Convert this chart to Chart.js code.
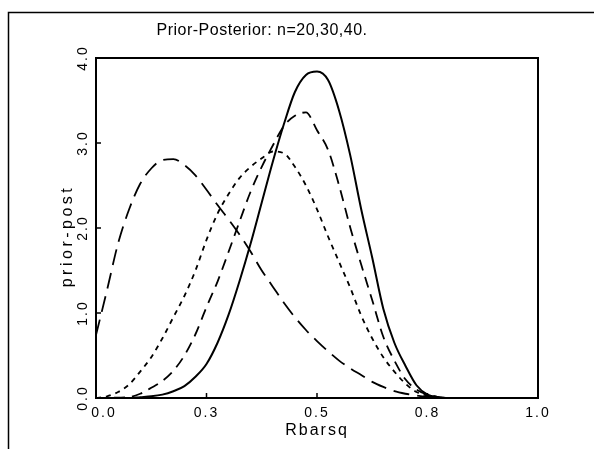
<!DOCTYPE html>
<html>
<head>
<meta charset="utf-8">
<script src="https://cdn.jsdelivr.net/npm/chart.js@4.4.0/dist/chart.umd.min.js"></script>
<style>
  html, body { margin: 0; padding: 0; background: #fff; }
</style>
</head>
<body>
<canvas id="myChart" width="594" height="449"></canvas>
<script>
  'use strict';

  // Data
  const titleText = 'Prior-Posterior: n=20,30,40.';
  const xTitle = 'Rbarsq';
  const yTitle = 'prior-post';
  const xTickValues = [0, 0.25, 0.5, 0.75, 1.0];
  const xTickLabels = ['0.0', '0.3', '0.5', '0.8', '1.0'];
  const yTickValues = [0, 1, 2, 3, 4];
  const yTickLabels = ['0.0', '1.0', '2.0', '3.0', '4.0'];

  const rbarsq = [0, 0.025, 0.05, 0.075, 0.1, 0.125, 0.15, 0.175, 0.2, 0.225,
    0.25, 0.275, 0.3, 0.325, 0.35, 0.375, 0.4, 0.425, 0.45, 0.475,
    0.5, 0.525, 0.55, 0.575, 0.6, 0.625, 0.65, 0.675, 0.7, 0.725,
    0.75, 0.775, 0.8, 0.825, 0.85, 0.875, 0.9, 0.925, 0.95, 0.975, 1.0];

  // prior (long dashes)
  const prior = [0.74, 1.27, 1.82, 2.22, 2.52, 2.7, 2.8, 2.81, 2.74, 2.62,
    2.45, 2.27, 2.1, 1.92, 1.72, 1.5, 1.31, 1.12, 0.95, 0.8,
    0.67, 0.55, 0.44, 0.35, 0.27, 0.19, 0.13, 0.08, 0.05, 0.03,
    0.015, 0.005, 0, 0, 0, 0, 0, 0, 0, 0, 0];
  // posterior n=20 (short dashes)
  const post20 = [0, 0.02, 0.07, 0.16, 0.31, 0.48, 0.7, 0.95, 1.2, 1.5,
    1.86, 2.17, 2.4, 2.59, 2.72, 2.82, 2.9, 2.88, 2.72, 2.5,
    2.22, 1.9, 1.6, 1.3, 0.97, 0.7, 0.48, 0.31, 0.17, 0.07,
    0.03, 0.01, 0, 0, 0, 0, 0, 0, 0, 0, 0];
  // posterior n=30 (medium dashes)
  const post30 = [0, 0, 0.005, 0.01, 0.05, 0.12, 0.2, 0.32, 0.5, 0.75,
    1.07, 1.37, 1.72, 2.08, 2.43, 2.72, 2.97, 3.2, 3.32, 3.36,
    3.15, 2.92, 2.5, 2.01, 1.57, 1.15, 0.72, 0.44, 0.22, 0.1,
    0.04, 0.01, 0, 0, 0, 0, 0, 0, 0, 0, 0];
  // posterior n=40 (solid)
  const post40 = [0, 0, 0, 0, 0.01, 0.02, 0.04, 0.08, 0.14, 0.25,
    0.4, 0.65, 0.98, 1.38, 1.82, 2.3, 2.78, 3.22, 3.6, 3.8,
    3.84, 3.74, 3.38, 2.86, 2.22, 1.65, 1.05, 0.65, 0.38, 0.15,
    0.04, 0.01, 0, 0, 0, 0, 0, 0, 0, 0, 0];

  const FONT = '"Liberation Sans", Arial, sans-serif';

  function toPoints(ys) {
    return rbarsq.map((x, i) => ({ x: x, y: ys[i] }));
  }

  function lineSet(ys, dash, width) {
    return {
      data: toPoints(ys),
      borderColor: '#000',
      backgroundColor: 'transparent',
      borderWidth: width,
      borderDash: dash,
      pointRadius: 0,
      cubicInterpolationMode: 'monotone',
      fill: false
    };
  }

  // frame, box, inward ticks and all texts
  const decor = {
    id: 'decor',
    afterDraw(chart) {
      const c = chart.ctx;
      const a = chart.chartArea;
      const xs = chart.scales.x;
      const ys = chart.scales.y;
      c.save();
      c.strokeStyle = '#000';
      c.setLineDash([]);

      // outer frame (left and top)
      c.lineWidth = 1.5;
      c.beginPath();
      c.moveTo(8.5, 449);
      c.lineTo(8.5, 12.5);
      c.lineTo(594, 12.5);
      c.stroke();

      // plot box
      c.lineWidth = 2;
      c.strokeRect(a.left, a.top, a.right - a.left, a.bottom - a.top);

      // inward ticks
      c.lineWidth = 1.5;
      c.beginPath();
      xTickValues.slice(1, -1).forEach(v => {
        const px = xs.getPixelForValue(v);
        c.moveTo(px, a.bottom);
        c.lineTo(px, a.bottom - 5);
      });
      yTickValues.slice(1, -1).forEach(v => {
        const py = ys.getPixelForValue(v);
        c.moveTo(a.left, py);
        c.lineTo(a.left + 5, py);
      });
      c.stroke();

      c.fillStyle = '#000';
      c.textAlign = 'center';
      c.textBaseline = 'middle';

      // title
      c.font = '16px ' + FONT;
      c.letterSpacing = '0.5px';
      c.fillText(titleText, 262, 31);

      // x tick labels
      c.font = '14px ' + FONT;
      c.letterSpacing = '2px';
      xTickValues.forEach((v, i) => {
        const px = xs.getPixelForValue(v) + (i === 0 ? 8 : 0);
        c.fillText(xTickLabels[i], px, a.bottom + 15);
      });

      // y tick labels (rotated)
      yTickValues.forEach((v, i) => {
        const py = ys.getPixelForValue(v);
        c.save();
        c.translate(a.left - 13, py);
        c.rotate(-Math.PI / 2);
        c.fillText(yTickLabels[i], 0, 0);
        c.restore();
      });

      // axis titles
      c.font = '16px ' + FONT;
      c.letterSpacing = '2px';
      c.fillText(xTitle, (a.left + a.right) / 2, a.bottom + 33);

      c.letterSpacing = '3.5px';
      c.save();
      c.translate(a.left - 28, (a.top + a.bottom) / 2 + 8);
      c.rotate(-Math.PI / 2);
      c.fillText(yTitle, 0, 0);
      c.restore();

      c.restore();
    }
  };

  const ctx = document.getElementById('myChart');
  new Chart(ctx, {
    type: 'line',
    data: {
      datasets: [
        lineSet(prior, [16, 8], 1.8),
        lineSet(post20, [5, 5], 1.8),
        lineSet(post30, [11, 7], 1.8),
        lineSet(post40, [], 2)
      ]
    },
    options: {
      responsive: false,
      animation: false,
      layout: { padding: { left: 0, right: 56, top: 58, bottom: 0 } },
      plugins: {
        legend: { display: false },
        tooltip: { enabled: false },
        title: { display: false }
      },
      scales: {
        x: {
          type: 'linear',
          min: 0,
          max: 1,
          grid: { display: false, drawTicks: false },
          border: { display: false },
          ticks: { display: false },
          afterFit: s => { s.height = 51; }
        },
        y: {
          min: 0,
          max: 4,
          grid: { display: false, drawTicks: false },
          border: { display: false },
          ticks: { display: false },
          afterFit: s => { s.width = 96; }
        }
      }
    },
    plugins: [decor]
  });
</script>
</body>
</html>
